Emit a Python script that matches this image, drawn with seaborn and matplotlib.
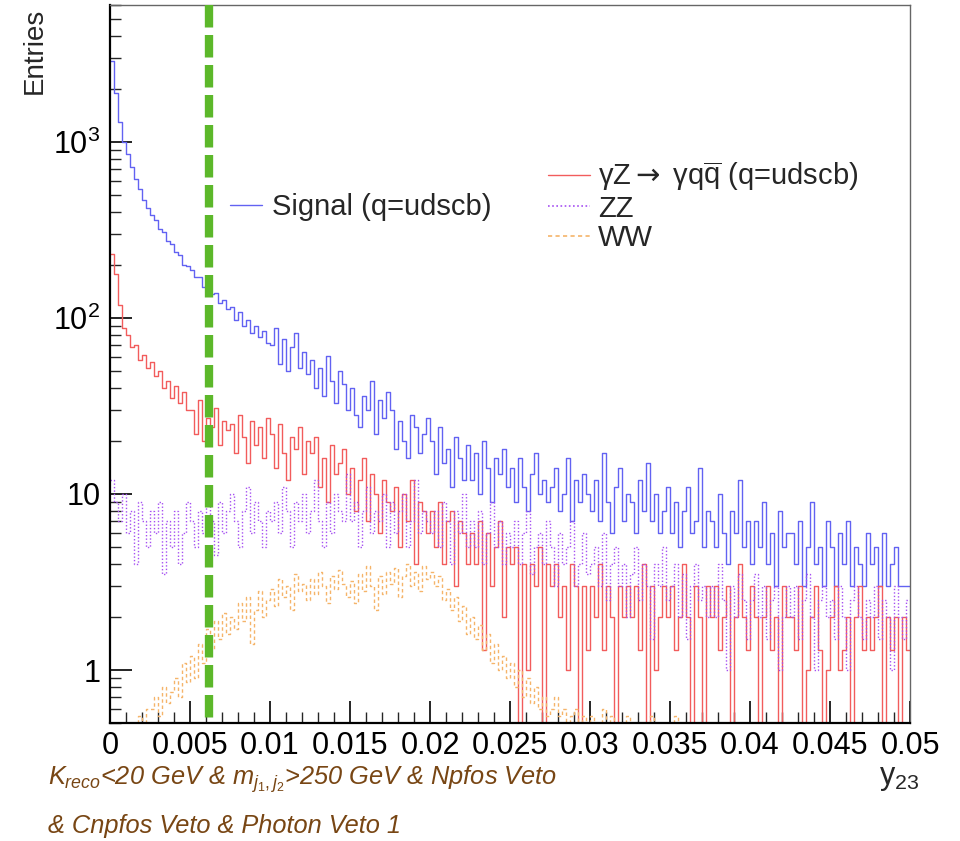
import numpy as np
import pandas as pd
import matplotlib
matplotlib.use("Agg")
import matplotlib.pyplot as plt
import seaborn as sns
from matplotlib.ticker import MultipleLocator, FixedLocator, LogLocator, FuncFormatter, NullFormatter
from matplotlib.lines import Line2D

# ---------------- data ----------------
x_min, x_max, n_bins = 0.0, 0.05, 200
cut_value = 0.0062

signal = [
    2900, 1900, 1300, 1000, 850, 720, 620, 540, 470, 420,
    385, 362, 322, 308, 272, 262, 236, 228, 200, 198,
    188, 170, 172, 150, 152, 136, 138, 122, 126, 112,
    115, 98, 108, 90, 97, 82, 90, 78, 84, 72,
    70, 88, 55, 76, 50, 68, 82, 52, 64, 48,
    58, 40, 52, 36, 61, 44, 33, 50, 42, 30,
    40, 28, 24, 36, 30, 44, 22, 34, 27, 38,
    30, 18, 26, 20, 16, 28, 24, 17, 22, 27,
    20, 13, 24, 15, 18, 11, 21, 16, 12, 19,
    12, 17, 10, 20, 14, 9, 16, 13, 18, 11,
    14, 9, 16, 11, 8, 13, 17, 10, 12, 9,
    11, 14, 8, 10, 16, 7, 12, 9, 13, 10,
    8, 12, 7, 17, 9, 6, 11, 14, 7, 10,
    9, 6, 12, 8, 15, 7, 10, 6, 8, 11,
    6, 9, 5, 8, 11, 6, 7, 14, 5, 8,
    7, 5, 10, 6, 4, 8, 6, 12, 5, 7,
    4, 7, 5, 9, 4, 6, 3, 8, 5, 6,
    6, 4, 7, 3, 5, 9, 4, 5, 3, 7,
    5, 3, 6, 4, 7, 3, 5, 4, 3, 6,
    4, 5, 3, 6, 3, 4, 5, 3, 3, 3,
]

gammaz = [
    232, 178, 118, 88, 80, 68, 70, 58, 62, 52,
    56, 47, 50, 40, 44, 35, 41, 33, 38, 30,
    30, 22, 34, 20, 27, 24, 31, 19, 26, 23,
    25, 17, 28, 21, 15, 26, 19, 24, 16, 27,
    22, 14, 25, 17, 12, 21, 18, 24, 13, 20,
    17, 21, 11, 16, 9, 19, 13, 15, 18, 10,
    14, 8, 12, 16, 7, 13, 10, 6, 12, 9,
    8, 11, 5, 10, 7, 12, 4, 9, 8, 6,
    8, 5, 9, 4, 7, 8, 3, 7, 6, 4,
    6, 4, 7, 1.3, 6, 3, 5, 7, 2, 5,
    4, 5, 0, 4, 1, 4, 3, 5, 0, 4,
    3, 4, 2, 3, 1, 4, 3, 0, 3, 1.3,
    3, 2, 4, 1.3, 3, 2, 0, 3, 2, 3,
    2, 3, 1.3, 4, 0, 3, 1, 2, 3, 2,
    3, 1.3, 2, 4, 2, 0, 3, 2, 0, 3,
    2, 3, 1.3, 2, 3, 0, 2, 4, 2, 1.3,
    3, 2, 0, 2, 3, 1.3, 2, 0, 3, 2,
    2, 1.3, 3, 0, 1, 2, 3, 1.3, 0, 1,
    2, 3, 1, 1.3, 2, 0, 2, 3, 1.3, 2,
    1.3, 2, 3, 0, 2, 1.3, 2, 0, 2, 1.3,
]

zz = [
    12, 9, 7, 10, 6, 8, 4, 9, 7, 5,
    8, 6, 9, 3.5, 7, 5, 8, 4, 6, 9,
    7, 5, 8, 6, 10, 7, 4.5, 9, 6, 8,
    10, 7, 5, 8, 11, 6, 9, 7, 5, 8,
    7, 9, 6, 11, 8, 5, 9, 7, 10, 6,
    8, 12, 7, 5, 9, 6, 10, 8, 7, 13,
    7, 9, 5, 8, 11, 6, 8, 7, 10, 5,
    9, 6, 8, 10, 5, 7, 12, 6, 8, 7,
    6, 8, 5, 9, 7, 4, 8, 6, 10, 5,
    7, 5, 8, 4, 6, 9, 5, 7, 4, 6,
    5, 7, 4, 6, 8, 3.5, 5, 6, 4, 7,
    5, 3, 6, 4, 5, 7, 3, 4, 6, 3.5,
    4, 5, 3, 6, 2.5, 4, 5, 3, 4, 2,
    3.5, 5, 2.5, 4, 3, 1.5, 4, 3, 5, 2.5,
    3, 4, 2, 3.5, 1.5, 3, 4, 2.5, 3, 2,
    3, 2, 4, 2.5, 1, 3, 2, 3.5, 2.5, 1.5,
    2.5, 3.5, 2, 3, 1.5, 2.5, 3, 1, 2, 3,
    2, 3, 1.5, 2.5, 3.5, 2, 1, 2.5, 3, 2,
    2.5, 1.5, 3, 2, 1, 2.5, 3, 2, 1.5, 2.5,
    2, 3, 1.5, 2.5, 2, 1, 3, 2, 1.5, 2.5,
]

ww = [
    0, 0, 0, 0, 0, 0, 0, 0.55, 0, 0.6,
    0.6, 0.7, 0.55, 0.8, 0.65, 0.75, 0.9, 0.7, 1.1, 0.85,
    1.2, 0.9, 1.4, 1.1, 1.7, 1.3, 1.9, 1.5, 2.1, 1.6,
    2.0, 1.7, 2.4, 1.9, 2.6, 1.4, 2.2, 2.8, 2.0, 2.5,
    2.9, 2.3, 3.3, 2.6, 3.0, 2.2, 3.5, 2.8, 3.1, 2.5,
    3.3, 2.7, 3.6, 3.0, 2.4, 3.4, 2.9, 3.7, 3.1, 2.6,
    3.2, 2.4, 3.5, 2.8, 3.9, 3.0, 2.2, 3.4, 2.7, 3.6,
    3.1, 3.8, 2.6, 3.4, 4.0, 3.0, 3.6, 2.8, 3.9, 3.3,
    3.6, 3.0, 3.4, 2.5, 2.9, 2.2, 2.6, 1.9, 2.3, 1.6,
    2.0, 1.5, 1.8, 1.3, 1.6, 1.1, 1.4, 1.0, 1.2, 0.9,
    1.1, 0.8, 1.0, 0.7, 0.9, 0.65, 0.8, 0.6, 0.7, 0.55,
    0.6, 0.7, 0.55, 0.6, 0, 0.55, 0.6, 0, 0.55, 0,
    0.55, 0, 0, 0.6, 0, 0.55, 0, 0, 0, 0.55,
    0, 0, 0, 0, 0, 0.55, 0, 0, 0, 0,
    0, 0.55, 0, 0, 0, 0, 0, 0, 0, 0,
    0, 0, 0, 0, 0, 0, 0, 0, 0, 0,
    0, 0, 0, 0, 0, 0, 0, 0, 0, 0,
    0, 0, 0, 0, 0, 0, 0, 0, 0, 0,
    0, 0, 0, 0, 0, 0, 0, 0, 0, 0,
    0, 0, 0, 0, 0, 0, 0, 0, 0, 0,
]

label_signal = "Signal (q=udscb)"
label_gammaz = "γZ$\\mathsf{\\rightarrow}$ γq$\\overline{\\mathrm{q}}$ (q=udscb)"
label_zz = "ZZ"
label_ww = "WW"
y_tick_values = [1, 10, 100, 1000]
y_tick_labels = ["1", "10", "10$^{2}$", "10$^{3}$"]
cut_line1 = "$K_{reco}$<20 GeV & $m_{j_{1},j_{2}}$>250 GeV & Npfos Veto"
cut_line2 = "& Cnpfos Veto & Photon Veto 1"

# ---------------- style ----------------
sns.set_style("ticks")
plt.rcParams["font.family"] = ["Liberation Sans", "DejaVu Sans"]
plt.rcParams["mathtext.fontset"] = "custom"
plt.rcParams["mathtext.rm"] = "Liberation Sans"
plt.rcParams["mathtext.it"] = "Liberation Sans:italic"
plt.rcParams["mathtext.bf"] = "Liberation Sans:bold"
plt.rcParams["mathtext.sf"] = "DejaVu Sans"

c_sig = "#6262f2"
c_gz = "#f25c5c"
c_zz = "#a650f2"
c_ww = "#f5b46a"
c_cut = "#5cb82a"
c_txt = "#784614"

W, H = 960, 841
fig = plt.figure(figsize=(W / 100, H / 100), dpi=100)
ax = fig.add_axes([110 / W, 1 - 723 / H, 800 / W, 718 / H])

edges = np.linspace(x_min, x_max, n_bins + 1)
centers = 0.5 * (edges[:-1] + edges[1:])
df = pd.DataFrame({"y23": centers, "signal": signal, "gammaz": gammaz,
                   "zz": zz, "ww": ww})

common = dict(bins=edges.tolist(), element="step", fill=False, ax=ax)
sns.histplot(data=df, x="y23", weights="signal", color=c_sig, linewidth=1.0, **common)
sns.histplot(data=df, x="y23", weights="gammaz", color=c_gz, linewidth=1.0, **common)
sns.histplot(data=df, x="y23", weights="zz", color=c_zz, linewidth=1.0,
             linestyle=(0, (1, 1.5)), **common)
sns.histplot(data=df, x="y23", weights="ww", color=c_ww, linewidth=1.0,
             linestyle=(0, (2.5, 2)), **common)

ax.set_yscale("log")
ax.set_xlim(x_min, x_max)
ax.set_ylim(0.5, 6000)

# cut line (drawn from top down)
ax.plot([cut_value, cut_value], [1, 0], transform=ax.get_xaxis_transform(),
        color=c_cut, lw=6, dashes=(2.7, 0.9), solid_capstyle="butt",
        dash_capstyle="butt", zorder=5)

# axes styling
ax.set_xlabel("")
ax.set_ylabel("")
for s in ["top", "right"]:
    ax.spines[s].set_color("#666666")
    ax.spines[s].set_linewidth(1.0)
for s in ["left", "bottom"]:
    ax.spines[s].set_color("black")
    ax.spines[s].set_linewidth(1.6)

ax.xaxis.set_major_locator(MultipleLocator(0.005))
ax.xaxis.set_minor_locator(MultipleLocator(0.001))
ax.xaxis.set_major_formatter(FuncFormatter(lambda v, p: "0" if abs(v) < 1e-12 else f"{v:g}"))
ax.yaxis.set_major_locator(FixedLocator(y_tick_values))
ax.set_yticklabels(y_tick_labels)
ax.yaxis.set_minor_locator(LogLocator(base=10, subs=np.arange(2, 10)))
ax.yaxis.set_minor_formatter(NullFormatter())

ax.tick_params(axis="both", which="major", direction="in", length=16, width=1.2,
               top=False, right=False, labelsize=22, colors="black")
ax.tick_params(axis="both", which="minor", direction="in", length=8, width=1.0,
               top=False, right=False)
ax.tick_params(axis="x", which="major", pad=6)
ax.tick_params(axis="y", which="major", pad=7)

# legends
h_sig = Line2D([], [], color=c_sig, lw=1.0)
h_gz = Line2D([], [], color=c_gz, lw=1.0)
h_zz = Line2D([], [], color=c_zz, lw=1.2, linestyle=(0, (1, 1.5)))
h_ww = Line2D([], [], color=c_ww, lw=1.2, linestyle=(0, (2.5, 2)))

leg_kw = dict(frameon=False, fontsize=21, borderpad=0, borderaxespad=0,
              bbox_transform=fig.transFigure, loc="upper left")
leg1 = ax.legend([h_sig], [label_signal], bbox_to_anchor=(230 / W, 1 - 193 / H),
                 handlelength=1.1, handletextpad=0.34, **leg_kw)
ax.add_artist(leg1)
ax.legend([h_gz, h_zz, h_ww], [label_gammaz, label_zz, label_ww],
          bbox_to_anchor=(548 / W, 1 - 160 / H), handlelength=1.45,
          handletextpad=0.27, labelspacing=0.05, **leg_kw)

# axis titles and notes
fig.text(35 / W, 1 - 8 / H, "Entries", rotation=90, ha="center", va="top", fontsize=20)
fig.text(879 / W, 1 - 784 / H, "y$_{\\mathrm{23}}$", ha="left", va="baseline", fontsize=22)
fig.text(48 / W, 1 - 785 / H, cut_line1, color=c_txt, style="italic",
         fontsize=18.3, ha="left", va="baseline")
fig.text(48 / W, 1 - 833 / H, cut_line2, color=c_txt, style="italic",
         fontsize=18.3, ha="left", va="baseline")

fig.savefig("out.png", dpi=100)
